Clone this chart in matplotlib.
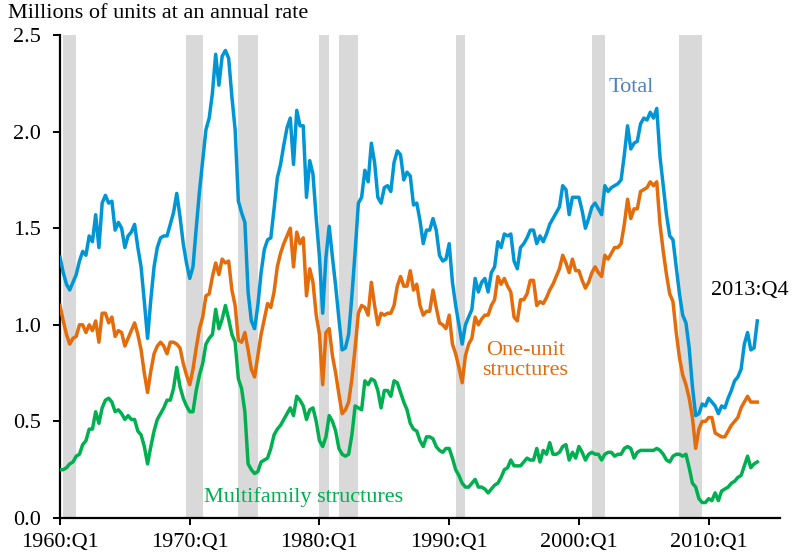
# Housing starts by type of structure, quarterly 1960:Q1 - 2013:Q4

import numpy as np
import matplotlib
matplotlib.use('Agg')
import matplotlib.pyplot as plt

plt.rcParams['font.family'] = ['Liberation Serif', 'DejaVu Serif']

# Millions of units at an annual rate, one value per quarter from 1960:Q1
total = [
    1.35, 1.27, 1.21, 1.18,  # 1960
    1.22, 1.26, 1.33, 1.38,  # 1961
    1.36, 1.46, 1.43, 1.57,  # 1962
    1.40, 1.63, 1.67, 1.63,  # 1963
    1.64, 1.49, 1.53, 1.50,  # 1964
    1.40, 1.46, 1.48, 1.52,  # 1965
    1.40, 1.30, 1.12, 0.93,  # 1966
    1.13, 1.30, 1.40, 1.45,  # 1967
    1.46, 1.46, 1.52, 1.58,  # 1968
    1.68, 1.56, 1.42, 1.32,  # 1969
    1.24, 1.30, 1.50, 1.69,  # 1970
    1.85, 2.01, 2.07, 2.20,  # 1971
    2.40, 2.24, 2.39, 2.42,  # 1972
    2.38, 2.18, 2.01, 1.64,  # 1973
    1.58, 1.53, 1.17, 1.02,  # 1974
    0.98, 1.10, 1.27, 1.39,  # 1975
    1.44, 1.45, 1.60, 1.76,  # 1976
    1.83, 1.93, 2.02, 2.07,  # 1977
    1.83, 2.11, 2.03, 2.03,  # 1978
    1.66, 1.85, 1.78, 1.55,  # 1979
    1.35, 1.06, 1.35, 1.51,  # 1980
    1.35, 1.20, 1.03, 0.87,  # 1981
    0.88, 0.95, 1.15, 1.38,  # 1982
    1.63, 1.66, 1.80, 1.74,  # 1983
    1.94, 1.84, 1.66, 1.63,  # 1984
    1.71, 1.72, 1.69, 1.84,  # 1985
    1.90, 1.88, 1.75, 1.79,  # 1986
    1.77, 1.62, 1.63, 1.54,  # 1987
    1.42, 1.49, 1.49, 1.55,  # 1988
    1.49, 1.36, 1.33, 1.34,  # 1989
    1.42, 1.22, 1.10, 1.00,  # 1990
    0.90, 1.00, 1.04, 1.08,  # 1991
    1.24, 1.17, 1.22, 1.24,  # 1992
    1.17, 1.27, 1.30, 1.43,  # 1993
    1.40, 1.47, 1.46, 1.47,  # 1994
    1.33, 1.29, 1.40, 1.42,  # 1995
    1.45, 1.49, 1.49, 1.42,  # 1996
    1.46, 1.43, 1.47, 1.52,  # 1997
    1.55, 1.58, 1.61, 1.72,  # 1998
    1.70, 1.57, 1.66, 1.66,  # 1999
    1.66, 1.59, 1.50, 1.55,  # 2000
    1.61, 1.63, 1.60, 1.57,  # 2001
    1.72, 1.69, 1.71, 1.72,  # 2002
    1.73, 1.75, 1.88, 2.03,  # 2003
    1.91, 1.94, 1.95, 2.04,  # 2004
    2.07, 2.06, 2.10, 2.07,  # 2005
    2.12, 1.87, 1.72, 1.57,  # 2006
    1.46, 1.44, 1.30, 1.16,  # 2007
    1.05, 1.01, 0.88, 0.68,  # 2008
    0.53, 0.54, 0.59, 0.58,  # 2009
    0.62, 0.60, 0.58, 0.54,  # 2010
    0.58, 0.57, 0.62, 0.66,  # 2011
    0.71, 0.73, 0.77, 0.90,  # 2012
    0.96, 0.87, 0.88, 1.02,  # 2013
]

one_unit = [
    1.10, 1.02, 0.95, 0.90,  # 1960
    0.93, 0.94, 1.00, 1.00,  # 1961
    0.96, 1.00, 0.97, 1.02,  # 1962
    0.91, 1.06, 1.06, 1.01,  # 1963
    1.04, 0.94, 0.97, 0.96,  # 1964
    0.89, 0.93, 0.97, 1.01,  # 1965
    0.95, 0.87, 0.75, 0.65,  # 1966
    0.76, 0.85, 0.89, 0.91,  # 1967
    0.89, 0.85, 0.91, 0.91,  # 1968
    0.90, 0.88, 0.80, 0.74,  # 1969
    0.69, 0.77, 0.88, 0.98,  # 1970
    1.04, 1.15, 1.16, 1.25,  # 1971
    1.32, 1.26, 1.34, 1.32,  # 1972
    1.33, 1.18, 1.10, 0.92,  # 1973
    0.91, 0.96, 0.87, 0.77,  # 1974
    0.73, 0.84, 0.95, 1.03,  # 1975
    1.11, 1.09, 1.17, 1.30,  # 1976
    1.37, 1.42, 1.46, 1.50,  # 1977
    1.30, 1.48, 1.42, 1.45,  # 1978
    1.15, 1.29, 1.22, 1.05,  # 1979
    0.95, 0.69, 0.96, 0.98,  # 1980
    0.84, 0.75, 0.64, 0.54,  # 1981
    0.56, 0.60, 0.72, 0.88,  # 1982
    1.06, 1.10, 1.09, 1.05,  # 1983
    1.22, 1.10, 1.00, 1.06,  # 1984
    1.05, 1.06, 1.06, 1.10,  # 1985
    1.20, 1.25, 1.20, 1.20,  # 1986
    1.28, 1.18, 1.21, 1.10,  # 1987
    1.05, 1.07, 1.07, 1.18,  # 1988
    1.09, 1.01, 1.00, 0.98,  # 1989
    1.05, 0.90, 0.85, 0.78,  # 1990
    0.70, 0.84, 0.90, 0.93,  # 1991
    1.04, 1.00, 1.03, 1.05,  # 1992
    1.05, 1.10, 1.13, 1.25,  # 1993
    1.21, 1.24, 1.20, 1.17,  # 1994
    1.04, 1.02, 1.13, 1.13,  # 1995
    1.16, 1.23, 1.23, 1.10,  # 1996
    1.12, 1.11, 1.14, 1.18,  # 1997
    1.21, 1.25, 1.29, 1.36,  # 1998
    1.32, 1.27, 1.34, 1.28,  # 1999
    1.28, 1.23, 1.19, 1.22,  # 2000
    1.27, 1.30, 1.27, 1.25,  # 2001
    1.36, 1.34, 1.37, 1.40,  # 2002
    1.40, 1.42, 1.52, 1.65,  # 2003
    1.55, 1.60, 1.60, 1.69,  # 2004
    1.70, 1.71, 1.74, 1.72,  # 2005
    1.74, 1.52, 1.38, 1.26,  # 2006
    1.16, 1.12, 0.96, 0.83,  # 2007
    0.74, 0.69, 0.62, 0.52,  # 2008
    0.36, 0.46, 0.50, 0.50,  # 2009
    0.52, 0.52, 0.44, 0.43,  # 2010
    0.42, 0.42, 0.45, 0.48,  # 2011
    0.50, 0.52, 0.57, 0.60,  # 2012
    0.63, 0.60, 0.60, 0.60,  # 2013
]

multifamily = [
    0.25, 0.25, 0.26, 0.28,  # 1960
    0.29, 0.32, 0.33, 0.38,  # 1961
    0.40, 0.46, 0.46, 0.55,  # 1962
    0.49, 0.57, 0.61, 0.62,  # 1963
    0.60, 0.55, 0.56, 0.54,  # 1964
    0.51, 0.53, 0.51, 0.51,  # 1965
    0.45, 0.43, 0.37, 0.28,  # 1966
    0.37, 0.45, 0.51, 0.54,  # 1967
    0.57, 0.61, 0.61, 0.67,  # 1968
    0.78, 0.68, 0.62, 0.58,  # 1969
    0.55, 0.55, 0.66, 0.74,  # 1970
    0.80, 0.90, 0.93, 0.95,  # 1971
    1.08, 0.98, 1.03, 1.10,  # 1972
    1.03, 0.95, 0.91, 0.72,  # 1973
    0.67, 0.55, 0.28, 0.25,  # 1974
    0.23, 0.24, 0.29, 0.30,  # 1975
    0.31, 0.36, 0.43, 0.46,  # 1976
    0.48, 0.51, 0.54, 0.57,  # 1977
    0.53, 0.63, 0.61, 0.58,  # 1978
    0.51, 0.56, 0.57, 0.50,  # 1979
    0.40, 0.37, 0.42, 0.53,  # 1980
    0.50, 0.45, 0.36, 0.33,  # 1981
    0.32, 0.33, 0.43, 0.58,  # 1982
    0.57, 0.56, 0.71, 0.69,  # 1983
    0.72, 0.71, 0.66, 0.57,  # 1984
    0.66, 0.66, 0.63, 0.71,  # 1985
    0.70, 0.65, 0.60, 0.56,  # 1986
    0.49, 0.46, 0.45, 0.40,  # 1987
    0.37, 0.42, 0.42, 0.41,  # 1988
    0.37, 0.35, 0.34, 0.36,  # 1989
    0.36, 0.31, 0.25, 0.22,  # 1990
    0.18, 0.16, 0.16, 0.18,  # 1991
    0.20, 0.16, 0.16, 0.15,  # 1992
    0.13, 0.15, 0.17, 0.18,  # 1993
    0.21, 0.25, 0.26, 0.30,  # 1994
    0.27, 0.27, 0.27, 0.29,  # 1995
    0.31, 0.30, 0.30, 0.36,  # 1996
    0.29, 0.35, 0.33, 0.39,  # 1997
    0.33, 0.33, 0.34, 0.37,  # 1998
    0.38, 0.30, 0.34, 0.31,  # 1999
    0.37, 0.34, 0.30, 0.33,  # 2000
    0.34, 0.33, 0.33, 0.30,  # 2001
    0.33, 0.34, 0.34, 0.32,  # 2002
    0.33, 0.33, 0.36, 0.37,  # 2003
    0.36, 0.31, 0.34, 0.35,  # 2004
    0.35, 0.35, 0.35, 0.35,  # 2005
    0.36, 0.35, 0.33, 0.30,  # 2006
    0.29, 0.32, 0.33, 0.33,  # 2007
    0.32, 0.33, 0.26, 0.18,  # 2008
    0.16, 0.10, 0.08, 0.08,  # 2009
    0.10, 0.09, 0.13, 0.09,  # 2010
    0.14, 0.15, 0.16, 0.18,  # 2011
    0.19, 0.21, 0.22, 0.27,  # 2012
    0.32, 0.26, 0.28, 0.29,  # 2013
]

# NBER recessions, first and last quarter
recessions = [
    ('1960:Q2', '1961:Q1'),
    ('1969:Q4', '1970:Q4'),
    ('1973:Q4', '1975:Q1'),
    ('1980:Q1', '1980:Q3'),
    ('1981:Q3', '1982:Q4'),
    ('1990:Q3', '1991:Q1'),
    ('2001:Q1', '2001:Q4'),
    ('2007:Q4', '2009:Q2'),
]

tick_labels = ['1960:Q1', '1970:Q1', '1980:Q1', '1990:Q1', '2000:Q1', '2010:Q1']


def quarter_index(label):
    year, q = label.split(':Q')
    return (int(year) - 1960) * 4 + int(q) - 1


x = np.arange(len(total))

fig = plt.figure(figsize=(7.94, 5.58), dpi=100)
ax = fig.add_axes([60 / 794, 1 - 518 / 558, 720 / 794, 483 / 558])

for start, end in recessions:
    ax.axvspan(quarter_index(start), quarter_index(end) + 1, color='#D9D9D9', lw=0, zorder=0)

ax.plot(x, multifamily, color='#00B050', lw=2.5, zorder=3)
ax.plot(x, one_unit, color='#E46C0A', lw=2.5, zorder=3)
ax.plot(x, total, color='#0096D6', lw=2.5, zorder=3)

ax.set_xlim(0, 222)
ax.set_ylim(0, 2.5)

ax.set_xticks([quarter_index(t) for t in tick_labels])
ax.set_xticklabels(tick_labels)
ax.set_yticks([0, 0.5, 1.0, 1.5, 2.0, 2.5])
ax.set_yticklabels(['0.0', '0.5', '1.0', '1.5', '2.0', '2.5'])
ax.tick_params(axis='both', labelsize=16, direction='out', width=1.4, length=5, colors='black')
ax.tick_params(axis='y', pad=9)
ax.tick_params(axis='x', pad=6)

for side in ['top', 'right']:
    ax.spines[side].set_visible(False)
for side in ['left', 'bottom']:
    ax.spines[side].set_linewidth(1.6)

# Labels
fig.text(8 / 794, 1 - 14 / 558, 'Millions of units at an annual rate', fontsize=16,
         ha='left', va='center')
ax.text(176.2, 2.23, 'Total', color='#4F81BD', fontsize=16, ha='center', va='center')
ax.text(143.5, 0.815, 'One-unit\nstructures', color='#E46C0A', fontsize=16,
        ha='center', va='center', linespacing=1.05)
ax.text(44.4, 0.11, 'Multifamily structures', color='#00B050', fontsize=16,
        ha='left', va='center')
ax.text(212.6, 1.18, '2013:Q4', color='black', fontsize=16, ha='center', va='center')

plt.savefig('out.png', dpi=100)
